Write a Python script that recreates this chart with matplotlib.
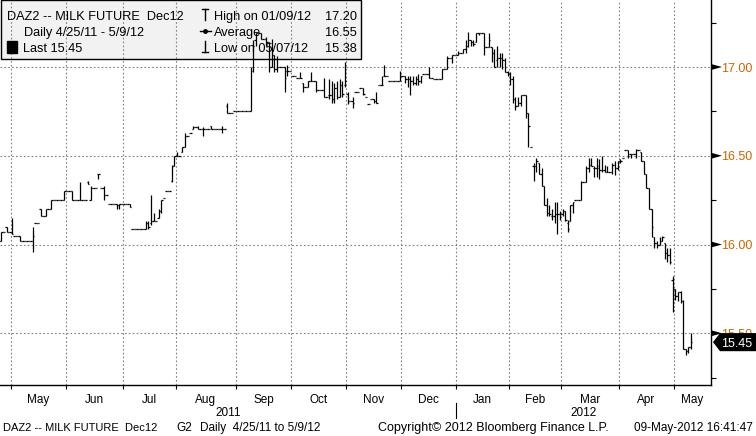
import numpy as np
import pandas as pd
import matplotlib
matplotlib.use("Agg")
import matplotlib.pyplot as plt
from matplotlib.collections import LineCollection
from matplotlib.patches import Polygon, Rectangle
from matplotlib.lines import Line2D

plt.rcParams['font.family'] = ['Liberation Sans', 'DejaVu Sans']

W, H = 756, 436

# ---- data: daily bars (open, high, low, close); a single number = flat day ----
holidays = ['2011-05-30', '2011-07-04', '2011-09-05', '2011-11-24', '2011-12-26',
            '2012-01-02', '2012-01-16', '2012-02-20']

apr11 = [16.02, (16.02, 16.07, 16.02, 16.07), 16.07, (16.10, 16.10, 16.07, 16.07), 16.07]
may11 = [(16.07, 16.15, 16.06, 16.06), 16.05, 16.05, (16.05, 16.05, 16.02, 16.02), 16.02, 16.02,
         16.02, 16.02, (16.02, 16.10, 15.96, 16.05), 16.12, 16.12, (16.20, 16.20, 16.16, 16.16),
         16.16, (16.16, 16.20, 16.16, 16.20), 16.20, (16.20, 16.25, 16.20, 16.25), 16.25, 16.25,
         16.25, 16.25, (16.25, 16.30, 16.25, 16.30)]
jun11 = [16.30, 16.30, (16.30, 16.30, 16.25, 16.25), 16.25, 16.25, (16.25, 16.35, 16.25, 16.25),
         16.25, 16.25, (16.35, 16.36, 16.34, 16.34), (16.25, 16.33, 16.25, 16.32), 16.32, 16.32,
         (16.40, 16.40, 16.37, 16.40), 16.32, (16.32, 16.33, 16.25, 16.28), 16.28, 16.23, 16.23,
         16.23, (16.23, 16.23, 16.20, 16.22), (16.22, 16.23, 16.20, 16.23), 16.23]
jul11 = [16.23, 16.23, (16.23, 16.23, 16.21, 16.21), 16.09, 16.09, 16.09, 16.09, 16.09,
         (16.09, 16.13, 16.09, 16.12), (16.12, 16.13, 16.09, 16.10), (16.12, 16.28, 16.11, 16.13),
         (16.13, 16.18, 16.13, 16.13), 16.13, (16.15, 16.20, 16.15, 16.19),
         (16.19, 16.25, 16.18, 16.25), 16.26, 16.30, 16.30, (16.36, 16.45, 16.35, 16.44),
         (16.44, 16.50, 16.44, 16.50)]
aug11 = [(16.50, 16.52, 16.50, 16.50), 16.50, (16.52, 16.55, 16.52, 16.55),
         (16.55, 16.63, 16.55, 16.61), 16.61, 16.63, (16.65, 16.67, 16.65, 16.66), 16.66,
         (16.66, 16.67, 16.65, 16.65), 16.65, (16.65, 16.66, 16.61, 16.65), 16.65, 16.65,
         (16.67, 16.67, 16.65, 16.65), 16.65, 16.65, 16.65, (16.65, 16.67, 16.63, 16.65), 16.65,
         (16.78, 16.80, 16.74, 16.74), 16.74, 16.74, 16.75]
sep11 = [16.75, 16.75, 16.75, 16.75, 16.75, (16.75, 17.00, 16.75, 16.98),
         (17.00, 17.15, 16.97, 17.12), (17.15, 17.19, 17.12, 17.19), 17.19,
         (17.19, 17.19, 17.16, 17.16), 17.16, (17.16, 17.17, 17.12, 17.14),
         (17.14, 17.14, 16.97, 17.00), (17.00, 17.16, 17.00, 17.07), (17.07, 17.07, 16.97, 16.99),
         (16.99, 17.06, 16.97, 17.00), 17.00, 17.00, (17.00, 17.00, 16.86, 16.94),
         (16.98, 17.01, 16.95, 16.98), 16.98]
oct11 = [16.95, 16.95, 16.94, (16.94, 16.97, 16.94, 16.94), (16.91, 16.91, 16.86, 16.89), 16.89,
         (16.89, 16.92, 16.89, 16.92), (16.92, 16.97, 16.92, 16.92), 16.92,
         (16.92, 16.92, 16.86, 16.87), 16.87, 16.87, (16.87, 16.94, 16.83, 16.83), 16.83,
         (16.84, 16.93, 16.82, 16.84), (16.84, 16.92, 16.80, 16.82), (16.82, 16.91, 16.80, 16.88),
         (16.88, 16.92, 16.82, 16.83), (16.83, 16.93, 16.83, 16.90), (16.90, 16.92, 16.83, 16.85),
         (16.90, 17.03, 16.89, 16.92)]
nov11 = [(16.85, 16.86, 16.79, 16.81), 16.81, (16.81, 16.83, 16.77, 16.80), 16.86, 16.86, 16.88,
         (16.88, 16.88, 16.84, 16.85), 16.83, 16.79, 16.82, (16.82, 16.82, 16.80, 16.81),
         (16.81, 16.86, 16.80, 16.80), 16.90, (16.90, 16.95, 16.90, 16.90),
         (16.95, 17.01, 16.95, 16.95), 16.95, 16.92, 16.92, 16.92, 16.92,
         (16.92, 16.98, 16.92, 16.95)]
dec11 = [16.95, (16.95, 16.95, 16.91, 16.93), (16.93, 16.95, 16.89, 16.93),
         (16.93, 16.95, 16.84, 16.92), (16.92, 16.95, 16.90, 16.91), (16.91, 16.95, 16.90, 16.93),
         (16.93, 16.96, 16.90, 16.92), (16.92, 16.95, 16.91, 16.95), 16.96, 16.96,
         (16.96, 17.00, 16.94, 16.94), 16.94, 16.93, 16.93, 16.93, (16.93, 16.99, 16.93, 16.99),
         16.99, (16.99, 17.06, 16.99, 17.05), 17.05, (17.05, 17.07, 17.02, 17.07), 17.07]
jan12 = [(17.07, 17.09, 17.07, 17.08), 17.08, (17.08, 17.10, 17.08, 17.10),
         (17.10, 17.15, 17.08, 17.12), (17.12, 17.20, 17.11, 17.15), (17.15, 17.15, 17.12, 17.14),
         (17.14, 17.15, 17.12, 17.13), (17.14, 17.19, 17.14, 17.19), (17.19, 17.19, 17.18, 17.19),
         17.19, (17.19, 17.19, 17.07, 17.11), 17.11, (17.11, 17.19, 17.11, 17.15),
         (17.11, 17.11, 17.03, 17.08), (17.08, 17.10, 17.00, 17.00), (17.04, 17.12, 17.00, 17.05),
         (17.05, 17.08, 17.00, 17.05), (17.05, 17.08, 16.99, 17.04), (17.04, 17.05, 16.97, 16.97),
         (16.97, 16.98, 16.95, 16.96)]
feb12 = [(16.96, 16.97, 16.90, 16.93), (16.93, 16.95, 16.80, 16.82), (16.82, 16.83, 16.76, 16.78),
         (16.78, 16.83, 16.78, 16.80), (16.80, 16.84, 16.78, 16.84), 16.84,
         (16.84, 16.84, 16.71, 16.74), (16.74, 16.74, 16.55, 16.67), 16.55,
         (16.44, 16.46, 16.36, 16.44), (16.44, 16.49, 16.41, 16.47), (16.46, 16.46, 16.40, 16.40),
         (16.40, 16.43, 16.33, 16.33), (16.33, 16.33, 16.22, 16.22), (16.22, 16.26, 16.16, 16.18),
         (16.18, 16.22, 16.16, 16.17), (16.16, 16.20, 16.14, 16.16), (16.16, 16.24, 16.12, 16.17),
         (16.17, 16.24, 16.06, 16.17), (16.17, 16.19, 16.14, 16.17)]
mar12 = [(16.17, 16.20, 16.16, 16.19), (16.19, 16.19, 16.13, 16.14), (16.12, 16.14, 16.07, 16.09),
         (16.13, 16.22, 16.13, 16.22), (16.22, 16.24, 16.18, 16.24), 16.25, 16.25,
         (16.25, 16.36, 16.25, 16.35), 16.35, (16.35, 16.44, 16.35, 16.43),
         (16.43, 16.49, 16.41, 16.45), (16.45, 16.49, 16.44, 16.44), (16.43, 16.44, 16.38, 16.43),
         (16.43, 16.49, 16.38, 16.44), (16.43, 16.48, 16.37, 16.42), (16.42, 16.50, 16.41, 16.42),
         (16.42, 16.45, 16.41, 16.41), (16.41, 16.44, 16.41, 16.41), 16.41,
         (16.41, 16.46, 16.40, 16.45), (16.45, 16.47, 16.39, 16.43), (16.43, 16.47, 16.42, 16.47)]
apr12 = [(16.47, 16.48, 16.46, 16.47), 16.49, 16.53, (16.53, 16.53, 16.49, 16.50),
         (16.51, 16.51, 16.49, 16.51), 16.51, (16.51, 16.54, 16.49, 16.53), 16.53,
         (16.52, 16.52, 16.47, 16.47), (16.47, 16.47, 16.40, 16.40), (16.40, 16.40, 16.32, 16.32),
         (16.32, 16.32, 16.20, 16.20), (16.20, 16.20, 16.04, 16.10), (16.04, 16.04, 15.98, 16.01),
         (16.01, 16.02, 15.98, 16.00), (16.00, 16.04, 16.00, 16.02), (16.02, 16.05, 16.02, 16.04),
         (16.01, 16.01, 15.92, 15.95), (15.95, 15.98, 15.90, 15.94), (15.94, 15.98, 15.89, 15.90),
         (15.80, 15.82, 15.62, 15.75)]
may12 = [(15.75, 15.75, 15.69, 15.71), (15.71, 15.73, 15.68, 15.73), (15.73, 15.74, 15.67, 15.68),
         (15.68, 15.69, 15.41, 15.41), (15.41, 15.41, 15.38, 15.40), (15.40, 15.42, 15.39, 15.42),
         (15.42, 15.50, 15.41, 15.45)]

month_names = ['Apr', 'May', 'Jun', 'Jul', 'Aug', 'Sep', 'Oct', 'Nov', 'Dec',
               'Jan', 'Feb', 'Mar', 'Apr', 'May']
y_major = [15.50, 16.00, 16.50, 17.00]
y_minor = [15.25, 15.75, 16.25, 16.75, 17.25]
legend_left = ['DAZ2 -- MILK FUTURE  Dec12', 'Daily 4/25/11 - 5/9/12', 'Last 15.45']
legend_right = [('High on 01/09/12', '17.20'), ('Average', '16.55'), ('Low on 05/07/12', '15.38')]
footer = ['DAZ2 -- MILK FUTURE  Dec12', 'G2', 'Daily  4/25/11 to 5/9/12',
          'Copyright\u00a9 2012 Bloomberg Finance L.P.', '09-May-2012 16:41:47']

months = [apr11, may11, jun11, jul11, aug11, sep11, oct11, nov11, dec11,
          jan12, feb12, mar12, apr12, may12]
rows = [r if isinstance(r, tuple) else (r, r, r, r) for m in months for r in m]
o, h, l, c = (np.array(v) for v in zip(*rows))

dates = pd.bdate_range('2011-04-25', '2012-05-09')
dates = dates[~dates.isin(pd.to_datetime(holidays))]
assert len(dates) == len(rows), (len(dates), len(rows))
idx = np.arange(len(dates))

# month boundaries (index positions between bars)
per = dates.to_period('M')
starts = [i for i in range(1, len(per)) if per[i] != per[i - 1]]
bounds = [s - 0.5 for s in starts]

# ---- figure ----
fig = plt.figure(figsize=(W / 100, H / 100), dpi=100)
fig.patch.set_facecolor('white')
ax = fig.add_axes([0, 1 - 385 / H, 711 / W, 385 / H])
xlo, xhi = 0.46, 271.6
ax.set_xlim(xlo, xhi)
ax.set_ylim(15.2085, 17.3775)

for s in ['left', 'top']:
    ax.spines[s].set_visible(False)
for s in ['right', 'bottom']:
    ax.spines[s].set_color('black')
    ax.spines[s].set_linewidth(1.0)

# grid
gkw = dict(color='#808080', lw=0.8, linestyle=(0, (1.5, 2.0)), zorder=1.5)
for b in bounds:
    ax.axvline(b, **gkw)
for yv in y_major:
    ax.axhline(yv, **gkw)

# ticks
ax.set_xticks(bounds)
ax.set_xticklabels([])
ax.tick_params(axis='x', which='major', direction='out', length=3, width=0.8, color='black')
ax.yaxis.tick_right()
ax.set_yticks(y_major)
ax.set_yticklabels(['%.2f' % v for v in y_major])
ax.set_yticks(y_minor, minor=True)
ax.tick_params(axis='y', which='major', length=0, pad=7.5, labelsize=9, labelcolor='#CC6600')
ax.tick_params(axis='y', which='minor', length=3.5, width=0.8, direction='out', color='black')

ytr = ax.get_yaxis_transform()
for yv in y_major:
    ax.add_patch(Polygon([(1.0, yv - 0.017), (1.0, yv + 0.017), (1 + 11 / 711, yv)],
                         closed=True, transform=ytr, clip_on=False, color='black', lw=0, zorder=5))

# legend background (drawn under grid and bars)
ax.add_patch(Rectangle((0.5 / W, 1 - 59 / H), 360 / W, 58.5 / H, transform=fig.transFigure,
                       facecolor='#F2F2F2', edgecolor='black', lw=1.0, zorder=0.8, clip_on=False))

# OHLC bars
segs = []
for i in idx:
    segs.append([(i, l[i]), (i, h[i])])
    segs.append([(i - 0.5, o[i]), (i, o[i])])
    segs.append([(i, c[i]), (i + 0.5, c[i])])
ax.add_collection(LineCollection(segs, colors='black', linewidths=0.9, zorder=3))

# last price tag
lp = c[-1]
ax.add_patch(Polygon([(1 + 2 / 711, lp), (1 + 9 / 711, lp + 0.051), (1 + 46 / 711, lp + 0.051),
                      (1 + 46 / 711, lp - 0.051), (1 + 9 / 711, lp - 0.051)],
                     closed=True, transform=ytr, clip_on=False, color='black', lw=0, zorder=6))
ax.text(1 + 26 / 711, lp, '%.2f' % lp, transform=ytr, color='white', fontsize=9,
        ha='center', va='center_baseline', zorder=7, clip_on=False)

# month labels and years
xtr = ax.get_xaxis_transform()
edges = [xlo] + bounds + [xhi]
for k, name in enumerate(month_names):
    a, b = edges[k], edges[k + 1]
    if b - a < 10:
        continue
    ax.text((a + b) / 2, -(403 - 385) / 385, name, transform=xtr, ha='center', va='baseline',
            fontsize=8.5, clip_on=False)
jan_b = bounds[8]
ax.text((xlo + jan_b) / 2, -(416 - 385) / 385, '2011', transform=xtr, ha='center', va='baseline',
        fontsize=8.5, clip_on=False)
ax.text((jan_b + xhi) / 2, -(416 - 385) / 385, '2012', transform=xtr, ha='center', va='baseline',
        fontsize=8.5, clip_on=False)
ax.add_line(Line2D([jan_b, jan_b], [-(403 - 385) / 385, -(418 - 385) / 385], transform=xtr,
                   color='black', lw=0.8, clip_on=False))


def ftext(x, y, s, **kw):
    ax.text(x / W, 1 - y / H, s, transform=fig.transFigure, clip_on=False, zorder=4, **kw)


# legend text
fs_leg = 9.2
ftext(7, 20, legend_left[0], fontsize=fs_leg, va='baseline')
ftext(24, 36, legend_left[1], fontsize=fs_leg, va='baseline')
ax.add_patch(Rectangle((7 / W, 1 - 53 / H), 10 / W, 12 / H, transform=fig.transFigure,
                       color='black', zorder=4, clip_on=False))
ftext(23, 52, legend_left[2], fontsize=fs_leg, va='baseline')
for k, (lab, val) in enumerate(legend_right):
    yb = 20 + 16 * k
    ftext(214, yb, lab, fontsize=fs_leg, va='baseline')
    ftext(357, yb, val, fontsize=fs_leg, va='baseline', ha='right')


def fline(xs, ys, **kw):
    ax.add_line(Line2D([x / W for x in xs], [1 - y / H for y in ys], transform=fig.transFigure,
                       clip_on=False, zorder=4, color='black', **kw))


fline([205, 205], [9, 20], lw=1.0)
fline([202, 208], [9, 9], lw=1.0)
fline([200, 211], [31, 31], lw=1.0)
fline([205], [31], marker='o', markersize=2.5, lw=0)
fline([205, 205], [41, 52], lw=1.0)
fline([202, 208], [52, 52], lw=1.0)

# footer
ftext(3, 431, footer[0], fontsize=8, va='baseline')
ftext(176, 431, footer[1], fontsize=8.5, va='baseline')
ftext(200, 431, footer[2], fontsize=8.5, va='baseline')
ftext(378, 431, footer[3], fontsize=9, va='baseline')
ftext(753, 431, footer[4], fontsize=8.5, va='baseline', ha='right')

fig.savefig('out.png', dpi=100, facecolor='white')
